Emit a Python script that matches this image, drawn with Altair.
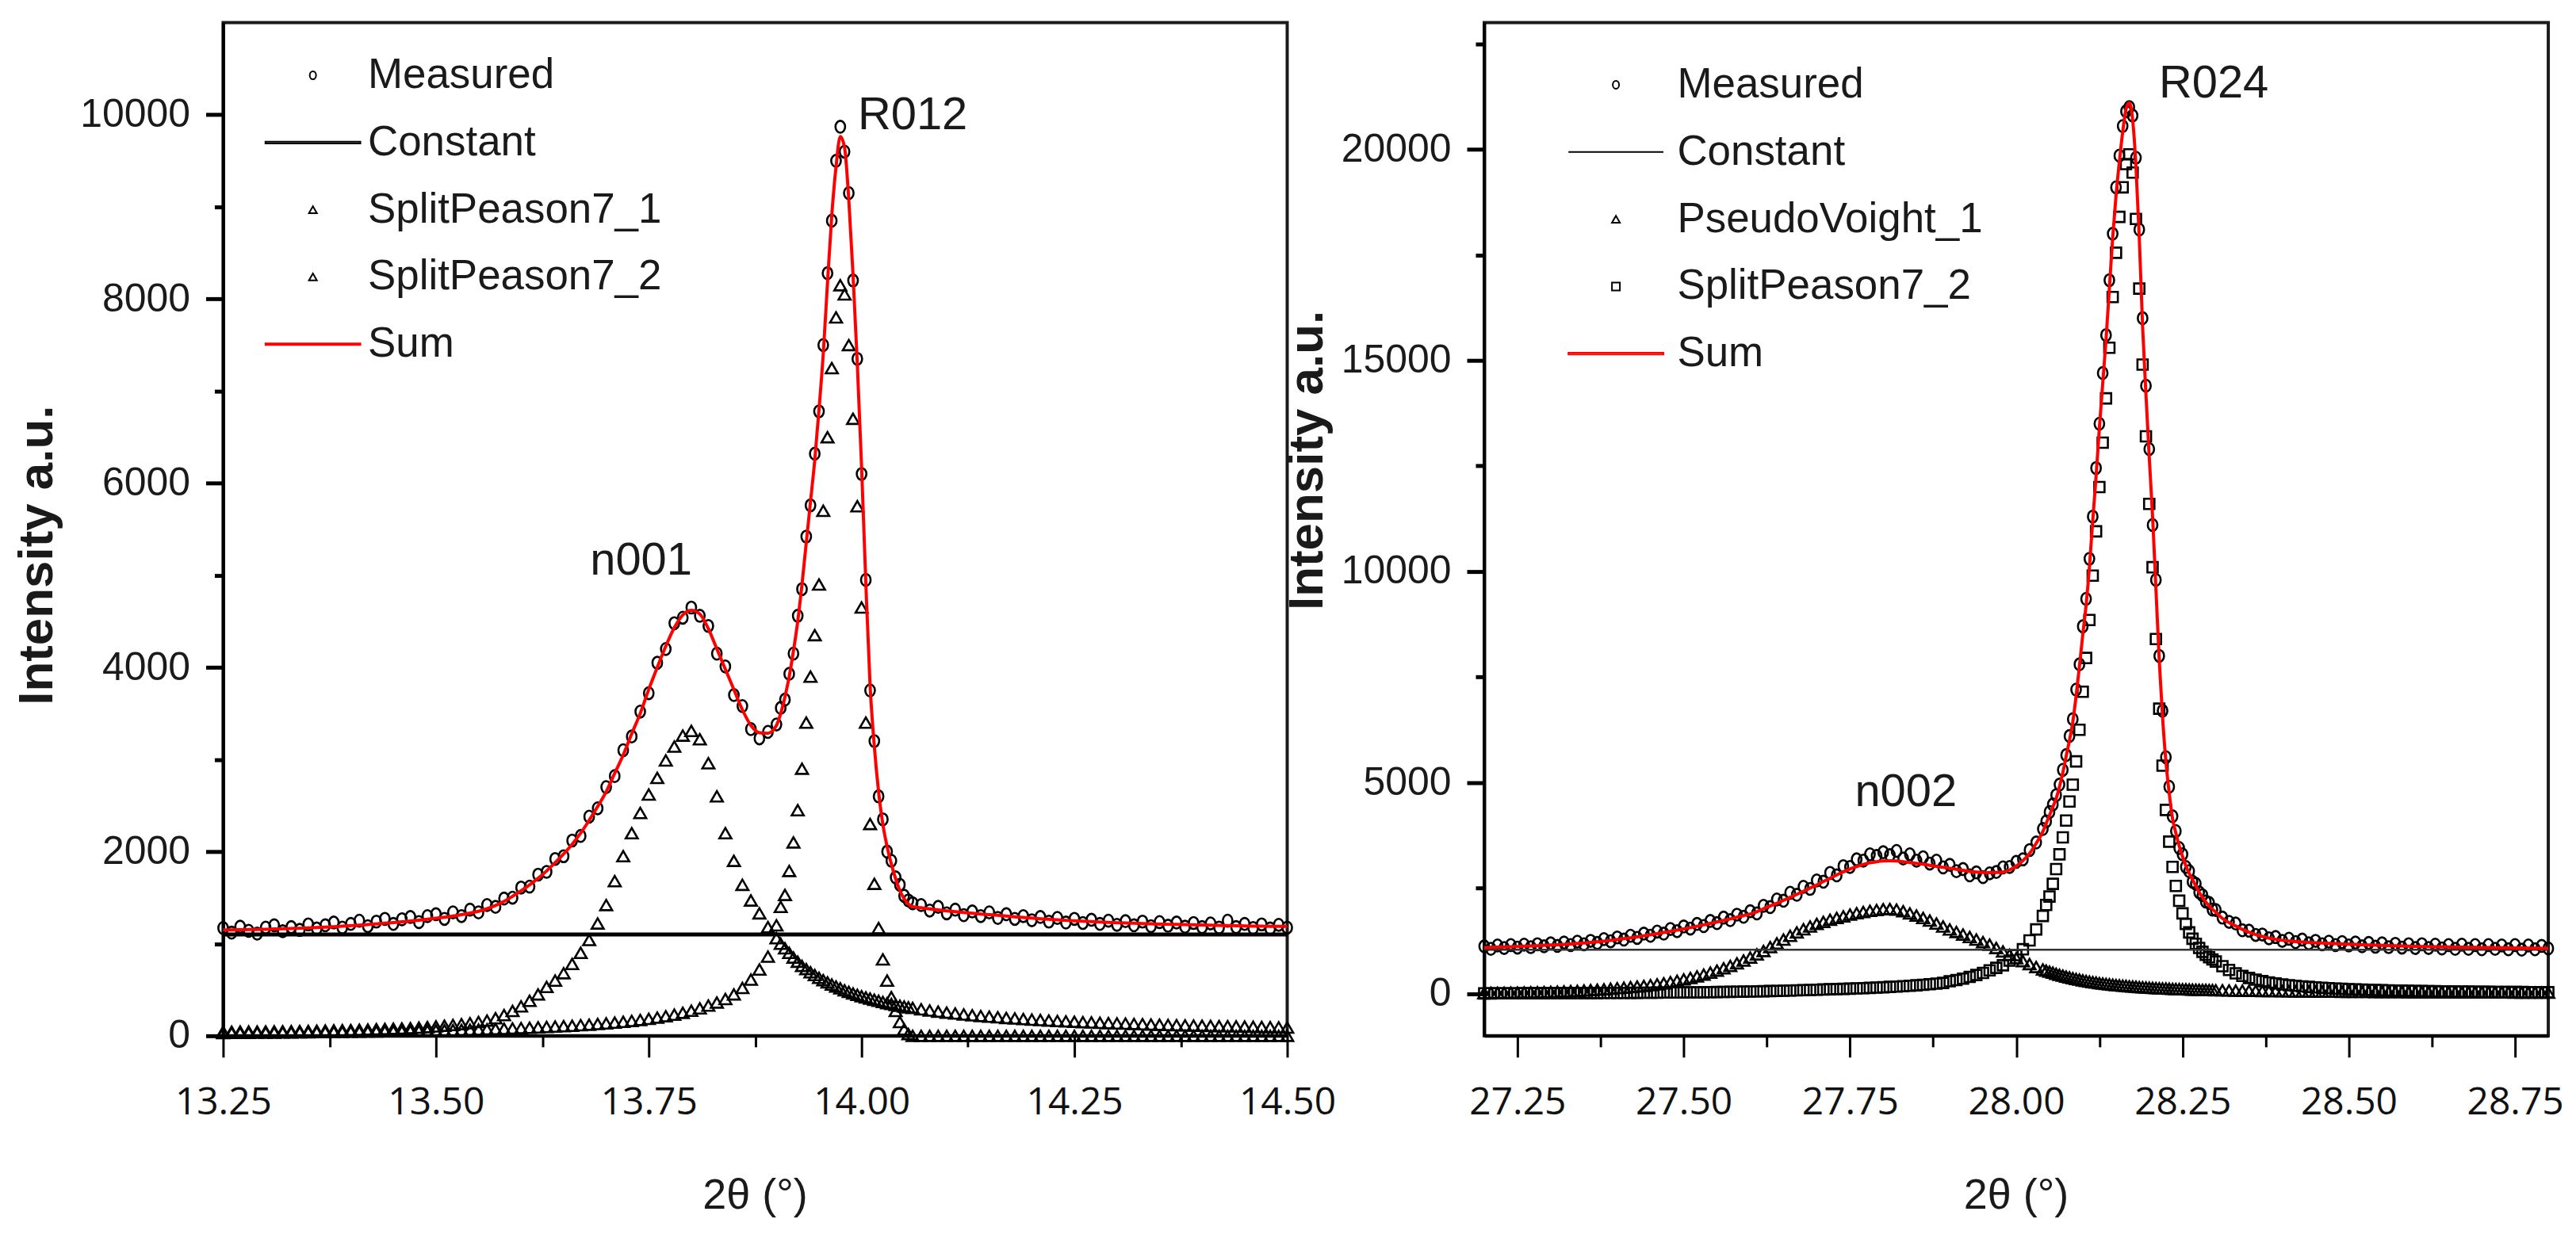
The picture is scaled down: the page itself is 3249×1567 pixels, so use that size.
import altair as alt
import pandas as pd

SANS = "Liberation Sans, Arial, sans-serif"
WIDE = "Open Sans, Liberation Sans, sans-serif"
LINE = "M-12,0L12,0"
BAR = "M-12,-0.22L12,-0.22L12,0.22L-12,0.22Z"
OVAL = "M0,-1A0.8,1,0,1,1,0,1A0.8,1,0,1,1,0,-1Z"


def grid(start, stop, step):
    n = int(round((stop - start) / step)) + 1
    return [round(start + i * step, 3) for i in range(n)]


# ---------------------------------------------------------
# LEFT PANEL  (2theta 13.25 - 14.50, finer sampling over R012)
# ---------------------------------------------------------
x_left = grid(13.25, 13.89, 0.01) + grid(13.90, 14.06, 0.005) + grid(14.07, 14.50, 0.01)

measured_left = [
    1170, 1120, 1185, 1140, 1110, 1175, 1200, 1135, 1180, 1150,
    1210, 1165, 1200, 1230, 1175, 1215, 1250, 1190, 1240, 1270,
    1215, 1265, 1290, 1235, 1300, 1320, 1270, 1340, 1300, 1370,
    1340, 1420, 1400, 1490, 1500, 1610, 1620, 1750, 1780, 1920,
    1950, 2120, 2170, 2380, 2470, 2700, 2820, 3100, 3250, 3520,
    3720, 4050, 4200, 4480, 4540, 4650, 4560, 4450, 4150, 4010,
    3700, 3580, 3330, 3230, 3300,
    3380, 3560, 3650, 3930, 4150, 4560, 4850, 5420, 5760, 6320,
    6780, 7500, 8280, 8850, 9500, 9870, 9600, 9150, 8200, 7350,
    6100, 4950, 3750, 3200, 2600, 2350, 2000, 1900, 1720, 1640, 1520, 1470, 1440,
    1420, 1360, 1400, 1330, 1370, 1310, 1350, 1300, 1340, 1280,
    1320, 1270, 1300, 1255, 1290, 1240, 1280, 1230, 1270, 1225,
    1260, 1215, 1250, 1205, 1245, 1200, 1240, 1190, 1235, 1195,
    1230, 1185, 1225, 1180, 1220, 1175, 1250, 1180, 1215, 1170,
    1210, 1165, 1205, 1175,
]
split1_left = [
    45, 45, 46, 46, 47, 48, 49, 50, 51, 52,
    53, 55, 57, 59, 61, 63, 66, 69, 72, 75,
    78, 80, 84, 89, 95, 102, 110, 118, 127, 137,
    150, 165, 190, 225, 270, 320, 380, 450, 530, 600,
    680, 780, 900, 1040, 1220, 1420, 1680, 1950, 2200, 2420,
    2620, 2800, 2990, 3140, 3260, 3310, 3220, 2960, 2600, 2200,
    1900, 1640, 1470, 1330, 1180,
    1060, 1000, 950, 900, 850, 805, 760, 725, 690, 660,
    630, 605, 580, 557, 535, 515, 495, 477, 460, 445,
    430, 417, 405, 392, 380, 367, 355, 345, 335, 326, 318, 310, 302,
    288, 275, 263, 252, 242, 232, 223, 215, 208, 201,
    194, 188, 182, 176, 171, 166, 161, 157, 153, 149,
    145, 141, 138, 135, 132, 129, 126, 123, 121, 118,
    116, 114, 112, 110, 108, 106, 104, 102, 100, 98,
    96, 94, 92, 90,
]
split2_left = [
    30, 31, 31, 32, 33, 34, 35, 36, 37, 38,
    39, 40, 41, 42, 43, 44, 45, 46, 47, 48,
    49, 50, 52, 54, 56, 58, 60, 62, 64, 66,
    68, 71, 74, 77, 80, 84, 88, 92, 96, 100,
    104, 109, 115, 121, 128, 135, 143, 152, 162, 172,
    184, 198, 213, 230, 250, 272, 298, 328, 362, 400,
    450, 520, 610, 720, 860,
    1200, 1400, 1530, 1790, 2100, 2450, 2900, 3400, 3900, 4350,
    4900, 5700, 6500, 7250, 7800, 8150, 8050, 7500, 6700, 5750,
    4650, 3400, 2300, 1650, 1170, 830, 600, 420, 270, 150, 70, 20, 0,
    0, 0, 0, 0, 0, 0, 0, 0, 0, 0,
    0, 0, 0, 0, 0, 0, 0, 0, 0, 0,
    0, 0, 0, 0, 0, 0, 0, 0, 0, 0,
    0, 0, 0, 0, 0, 0, 0, 0, 0, 0,
    0, 0, 0, 0,
]
sum_left = [
    1150, 1150, 1152, 1153, 1155, 1157, 1160, 1162, 1165, 1168,
    1172, 1176, 1180, 1185, 1190, 1196, 1202, 1208, 1215, 1222,
    1230, 1238, 1246, 1255, 1265, 1276, 1288, 1301, 1316, 1333,
    1352, 1380, 1415, 1460, 1515, 1575, 1640, 1710, 1790, 1880,
    1975, 2080, 2200, 2340, 2490, 2650, 2850, 3050, 3280, 3500,
    3760, 4000, 4230, 4430, 4570, 4620, 4580, 4420, 4200, 3980,
    3760, 3540, 3370, 3290, 3285,
    3370, 3500, 3680, 3900, 4180, 4500, 4900, 5350, 5800, 6250,
    6800, 7405, 8180, 8907, 9435, 9765, 9645, 9077, 8260, 7295,
    6180, 4917, 3805, 3142, 2650, 2297, 2055, 1865, 1705, 1576, 1488, 1430, 1402,
    1390, 1378, 1367, 1357, 1348, 1339, 1330, 1322, 1315, 1308,
    1300, 1292, 1285, 1278, 1271, 1265, 1259, 1254, 1249, 1244,
    1240, 1236, 1232, 1228, 1225, 1222, 1219, 1216, 1213, 1211,
    1209, 1207, 1205, 1203, 1201, 1199, 1197, 1195, 1193, 1191,
    1190, 1189, 1188, 1187,
]
const_x_left = [13.25, 14.50]
const_left = [1100, 1100]
names_left = ["Measured", "Constant", "SplitPeason7_1", "SplitPeason7_2", "Sum"]
peak_labels_left = ["n001", "R012"]
peak_x_left = [13.741, 14.06]
peak_y_left = [5150, 9990]

# ---------------------------------------------------------
# RIGHT PANEL  (2theta 27.20 - 28.80, finer sampling over R024)
# ---------------------------------------------------------
x_right = grid(27.20, 28.04, 0.01) + grid(28.045, 28.300, 0.005) + grid(28.31, 28.80, 0.01)

measured_right = [
    1120, 1060, 1140, 1080, 1150, 1090, 1160, 1100, 1170, 1120,
    1190, 1130, 1210, 1150, 1230, 1170, 1250, 1200, 1290, 1240,
    1330, 1280, 1370, 1320, 1420, 1370, 1470, 1420, 1530, 1480,
    1590, 1540, 1650, 1600, 1720, 1670, 1800, 1740, 1870, 1820,
    1950, 1900, 2080, 2050, 2230, 2200, 2390, 2340, 2530, 2480,
    2680, 2650, 2860, 2800, 3020, 3000, 3180, 3150, 3300, 3260,
    3350, 3280, 3380, 3200, 3300, 3150, 3230, 3080, 3150, 2990,
    3050, 2900, 2950, 2800, 2870, 2760, 2850, 2880, 2990, 3000,
    3120, 3180, 3400, 3580, 3900,
    4080, 4300, 4480, 4700, 4950, 5300, 5650, 6100, 6500, 7200,
    7800, 8700, 9350, 10300, 11300, 12450, 13500, 14700, 15600, 16900,
    18000, 19100, 19850, 20550, 20900, 21000, 20800, 19800, 18100, 16000,
    14400, 12900, 11100, 9800, 8000, 6700, 5600, 4900, 4200, 3850,
    3450, 3300, 3000, 2900, 2650, 2600, 2400, 2330, 2180, 2150,
    1990, 1980,
    1800, 1700, 1660, 1500, 1490, 1390, 1400, 1310, 1340, 1250,
    1300, 1220, 1280, 1190, 1250, 1170, 1230, 1150, 1220, 1140,
    1210, 1120, 1200, 1110, 1190, 1100, 1180, 1090, 1170, 1080,
    1170, 1080, 1160, 1070, 1150, 1060, 1160, 1060, 1150, 1050,
    1150, 1060, 1140, 1050, 1150, 1040, 1140, 1050, 1130, 1070,
]
voight1_right = [
    15, 16, 18, 20, 22, 24, 27, 30, 33, 37,
    41, 46, 52, 58, 65, 73, 82, 92, 103, 116,
    128, 140, 153, 167, 182, 200, 220, 245, 272, 302,
    335, 370, 408, 450, 495, 545, 598, 655, 718, 785,
    855, 930, 1010, 1100, 1190, 1280, 1370, 1450, 1525, 1590,
    1650, 1700, 1750, 1790, 1830, 1870, 1905, 1935, 1960, 1980,
    2000, 2005, 1990, 1950, 1900, 1850, 1790, 1730, 1660, 1590,
    1520, 1460, 1400, 1340, 1280, 1220, 1160, 1080, 1000, 920,
    840, 770, 700, 630, 570,
    545, 520, 495, 470, 447, 425, 404, 384, 365, 347,
    330, 314, 299, 285, 272, 260, 249, 238, 228, 219,
    210, 202, 194, 187, 180, 173, 167, 161, 155, 150,
    145, 140, 135, 131, 127, 123, 119, 115, 112, 109,
    106, 103, 100, 97, 95, 92, 90, 88, 86, 84,
    82, 80,
    77, 74, 71, 68, 66, 64, 62, 60, 58, 56,
    54, 52, 50, 49, 48, 46, 45, 44, 43, 42,
    41, 40, 39, 38, 37, 36, 35, 35, 34, 33,
    32, 32, 31, 30, 30, 29, 28, 28, 27, 27,
    26, 26, 25, 25, 24, 24, 23, 23, 22, 22,
]
split2_right = [
    5, 5, 6, 6, 7, 7, 8, 8, 9, 9,
    10, 10, 11, 11, 12, 13, 13, 14, 15, 15,
    16, 17, 18, 19, 20, 21, 22, 24, 25, 26,
    28, 29, 31, 33, 35, 37, 39, 41, 44, 47,
    50, 53, 56, 60, 64, 68, 72, 77, 82, 87,
    92, 97, 102, 107, 112, 117, 123, 129, 136, 143,
    150, 158, 166, 175, 185, 196, 208, 221, 236, 253,
    292, 320, 355, 395, 440, 490, 550, 610, 670, 780,
    910, 1050, 1260, 1520, 1840,
    2100, 2300, 2600, 2950, 3300, 3700, 4100, 4550, 4950, 5500,
    6250, 7150, 7950, 8850, 9900, 10950, 12000, 13050, 14100, 15300,
    16500, 17550, 18400, 19100, 19650, 19880, 19450, 18350, 16700, 14900,
    13200, 11600, 10100, 8400, 6750, 5400, 4350, 3600, 3000, 2550,
    2200, 1900, 1650, 1450, 1300, 1180, 1080, 990, 920, 860,
    810, 760,
    650, 560, 480, 420, 370, 330, 295, 265, 240, 218,
    200, 184, 170, 158, 147, 137, 128, 120, 113, 106,
    100, 95, 90, 85, 81, 77, 73, 70, 67, 64,
    61, 58, 56, 54, 52, 50, 48, 46, 44, 42,
    41, 40, 39, 38, 37, 36, 35, 34, 33, 32,
]
sum_right = [
    1090, 1095, 1100, 1105, 1110, 1116, 1122, 1128, 1135, 1142,
    1150, 1158, 1167, 1177, 1188, 1200, 1213, 1227, 1243, 1260,
    1280, 1300, 1322, 1345, 1370, 1395, 1420, 1447, 1475, 1503,
    1533, 1563, 1595, 1628, 1662, 1697, 1733, 1770, 1808, 1847,
    1887, 1940, 2010, 2075, 2140, 2210, 2280, 2350, 2425, 2500,
    2575, 2655, 2735, 2810, 2885, 2950, 3010, 3060, 3100, 3125,
    3140, 3145, 3140, 3125, 3105, 3085, 3065, 3040, 3015, 2990,
    2970, 2945, 2920, 2895, 2880, 2870, 2865, 2868, 2880, 2930,
    3020, 3150, 3320, 3560, 3840,
    4030, 4220, 4420, 4620, 4900, 5230, 5620, 6000, 6430, 7050,
    7750, 8500, 9200, 10100, 11200, 12250, 13400, 14450, 15500, 16700,
    17900, 18900, 19700, 20400, 20950, 21100, 20700, 19600, 17900, 15800,
    14200, 12700, 11300, 9600, 7900, 6550, 5500, 4750, 4150, 3800,
    3500, 3250, 3030, 2850, 2700, 2550, 2400, 2280, 2170, 2080,
    2000, 1930,
    1780, 1680, 1600, 1520, 1455, 1400, 1355, 1315, 1285, 1262,
    1245, 1232, 1222, 1213, 1205, 1197, 1190, 1183, 1176, 1170,
    1164, 1158, 1152, 1146, 1141, 1136, 1131, 1127, 1123, 1119,
    1115, 1112, 1109, 1106, 1103, 1100, 1098, 1096, 1094, 1092,
    1090, 1088, 1086, 1084, 1082, 1080, 1078, 1076, 1074, 1072,
]
const_x_right = [27.20, 28.80]
const_right = [1040, 1040]
names_right = ["Measured", "Constant", "PseudoVoight_1", "SplitPeason7_2", "Sum"]
peak_labels_right = ["n002", "R024"]
peak_x_right = [27.834, 28.297]
peak_y_right = [4766, 21540]


# ---------------------------------------------------------
# HELPERS
# ---------------------------------------------------------
def series_table(x, values, name):
    assert len(values) == len(x), (name, len(values), len(x))
    return pd.DataFrame({"x": x, "v": values, "series": name})


def make_panel(x, measured, comp1, comp2, total, const_x, const_v, labels, cfg):
    xs = alt.Scale(domain=cfg["xdomain"], nice=False, zero=False)
    ys = alt.Scale(domain=cfg["ydomain"], nice=False, zero=False)
    names = cfg["names"]

    legend = alt.Legend(
        orient="none", legendX=cfg["legendX"], legendY=cfg["legendY"], title=None,
        labelFont=SANS, labelFontSize=53, labelColor="#1a1a1a", labelLimit=2000,
        labelOffset=cfg["labelOffset"], symbolSize=100, symbolStrokeWidth=2,
        rowPadding=31, padding=0,
    )
    color = alt.Color("series:N", legend=legend, scale=alt.Scale(
        domain=names, range=["black", "black", "black", "black", "#ff0000"]))
    shape = alt.Shape("series:N", legend=legend, scale=alt.Scale(domain=names, range=cfg["shapes"]))

    y_major = alt.Axis(
        values=cfg["yticks"], format="d", title="Intensity a.u.", orient="left",
        titleFont=SANS, titleFontWeight="bold", titleFontSize=62, titleColor="#1a1a1a",
        titleAngle=270, titleAlign="center", titleBaseline="alphabetic",
        titleX=cfg["titleX"], titleY=cfg["titleY"],
        labelFont=SANS, labelFontSize=50, labelColor="#1a1a1a", labelPadding=20,
        tickSize=22, tickWidth=5, tickColor="black", domainWidth=4, domainColor="black", grid=False,
    )
    x_major = alt.Axis(
        values=cfg["xticks"], format=".2f", title="2θ (°)", orient="bottom",
        titleFont=SANS, titleFontWeight="normal", titleFontSize=54, titleColor="#1a1a1a",
        titleBaseline="alphabetic", titleX=672, titleY=218,
        labelFont=WIDE, labelFontSize=48, labelColor="#111111", labelBaseline="alphabetic",
        labelPadding=72, labelFlush=False,
        tickSize=27, tickWidth=3, tickColor="black", domainWidth=4, domainColor="black", grid=False,
    )

    def points(df, size, axes=False):
        return alt.Chart(df).mark_point(filled=False, size=size, strokeWidth=2.6, opacity=1).encode(
            x=alt.X("x:Q", scale=xs, axis=x_major if axes else None),
            y=alt.Y("v:Q", scale=ys, axis=y_major if axes else None),
            color=color, shape=shape,
        )

    measured_pts = points(series_table(x, measured, names[0]), 230, axes=True)
    comp1_pts = points(series_table(x, comp1, names[2]), 230)
    comp2_pts = points(series_table(x, comp2, names[3]), cfg["comp2_size"])

    const_df = pd.DataFrame({"x": const_x, "v": const_v})
    const_line = alt.Chart(const_df).mark_line(
        color=cfg["const_color"], strokeWidth=cfg["const_width"]
    ).encode(x=alt.X("x:Q", scale=xs, axis=None), y=alt.Y("v:Q", scale=ys, axis=None))

    sum_line = alt.Chart(series_table(x, total, names[4])).mark_line(
        color="#ff0000", strokeWidth=4, interpolate="monotone"
    ).encode(x=alt.X("x:Q", scale=xs, axis=None), y=alt.Y("v:Q", scale=ys, axis=None))

    text_df = pd.DataFrame({"x": labels[1], "v": labels[2], "label": labels[0]})
    peak_text = alt.Chart(text_df).mark_text(
        font=SANS, fontSize=58, color="#1a1a1a", align="center", baseline="middle"
    ).encode(x=alt.X("x:Q", scale=xs, axis=None), y=alt.Y("v:Q", scale=ys, axis=None), text="label:N")

    minor = alt.Chart(const_df).mark_line(opacity=0).encode(
        x=alt.X("x:Q", scale=xs, axis=alt.Axis(
            values=cfg["xminor"], orient="bottom", labels=False, domain=False, title=None,
            tickSize=14, tickWidth=3, tickColor="black", grid=False)),
        y=alt.Y("v:Q", scale=ys, axis=alt.Axis(
            values=cfg["yminor"], orient="left", labels=False, domain=False, title=None,
            tickSize=11, tickWidth=5, tickColor="black", grid=False)),
    )

    return alt.layer(
        comp2_pts, comp1_pts, measured_pts, const_line, sum_line, peak_text, minor
    ).resolve_axis(x="independent", y="independent").properties(width=1345, height=1281)


left = make_panel(
    x_left, measured_left, split1_left, split2_left, sum_left, const_x_left, const_left,
    (peak_labels_left, peak_x_left, peak_y_left),
    {
        "xdomain": [13.25, 14.50], "ydomain": [0, 11000], "names": names_left,
        "shapes": [OVAL, BAR, "triangle-up", "triangle-up", BAR],
        "xticks": [13.25, 13.5, 13.75, 14.0, 14.25, 14.5],
        "xminor": [13.375, 13.625, 13.875, 14.125, 14.375],
        "yticks": [0, 2000, 4000, 6000, 8000, 10000],
        "yminor": [1000, 3000, 5000, 7000, 9000],
        "titleX": -216, "titleY": 673,
        "legendX": 87, "legendY": 40, "labelOffset": 43,
        "comp2_size": 230, "const_color": "black", "const_width": 5,
    },
)
right = make_panel(
    x_right, measured_right, voight1_right, split2_right, sum_right, const_x_right, const_right,
    (peak_labels_right, peak_x_right, peak_y_right),
    {
        "xdomain": [27.20, 28.80], "ydomain": [-1000, 23000], "names": names_right,
        "shapes": [OVAL, LINE, "triangle-up", "square", BAR],
        "xticks": [27.25, 27.5, 27.75, 28.0, 28.25, 28.5, 28.75],
        "xminor": [27.375, 27.625, 27.875, 28.125, 28.375, 28.625],
        "yticks": [0, 5000, 10000, 15000, 20000],
        "yminor": [2500, 7500, 12500, 17500, 22500],
        "titleX": -205, "titleY": 553,
        "legendX": 140, "legendY": 52, "labelOffset": 51,
        "comp2_size": 170, "const_color": "#333333", "const_width": 2.5,
    },
)

chart = (
    alt.hconcat(left, right, spacing=249, bounds="flush")
    .resolve_scale(color="independent", shape="independent")
    .resolve_legend(color="independent", shape="independent")
    .properties(padding={"left": 6, "top": 17, "right": 5, "bottom": 5})
    .configure_view(stroke="#1a1a1a", strokeWidth=4)
    .configure_axis(grid=False)
)

chart.save("out.html", embed_options={"renderer": "svg", "actions": False})
